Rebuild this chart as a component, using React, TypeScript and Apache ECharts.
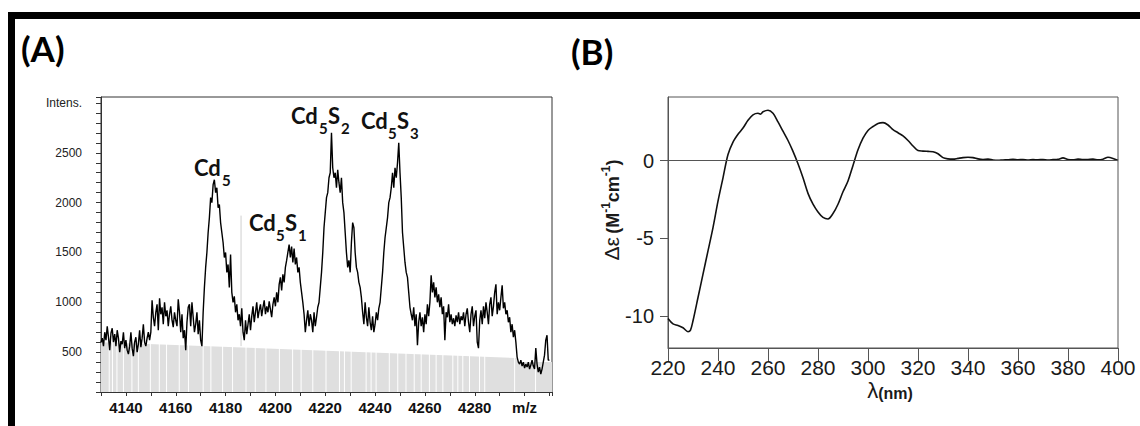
import React, { useEffect, useRef } from "react";
import * as echarts from "echarts";

// ---------- Panel A : mass spectrum ----------
const msStart = 4130;
const msStep = 0.5;
const msIntensity = [
  600, 640, 560, 700, 620, 760, 650, 520, 690, 740, 600, 680, 560, 720, 640, 500, 610, 580, 700, 540,
  620, 520, 480, 560, 700, 540, 460, 600, 650, 500, 580, 720, 550, 640, 780, 600, 560, 640, 700, 620,
  700, 1020, 850, 760, 900, 980, 720, 1040, 880, 950, 780, 1000, 860, 920, 760, 880, 960, 820, 750, 900,
  820, 760, 1030, 900, 700, 880, 640, 720, 520, 800, 950, 980, 760, 1000, 850, 700, 780, 900, 680, 820,
  620, 560, 900, 1150, 1350, 1500, 1700, 1850, 2050, 2000, 2180, 2230, 2100, 2150, 1950, 1980, 1800, 1700, 1600, 1450,
  1500, 1300, 1380, 1150, 1480, 1100, 1000, 1060, 900, 980, 820, 880, 760, 940, 700, 620, 820, 680, 780, 880,
  720, 860, 960, 800, 900, 1000, 840, 920, 980, 860, 950, 1020, 880, 960, 900, 1010, 930, 850, 980, 1050,
  960, 1100, 1000, 1180, 1250, 1120, 1280, 1200, 1350, 1420, 1500, 1580, 1450, 1560, 1400, 1540, 1380, 1450, 1300, 1350,
  1200, 1100, 1000, 880, 700, 820, 920, 760, 880, 820, 700, 900, 760, 850, 950, 1000, 1150, 1300, 1500, 1750,
  1900, 2050, 2100, 2250, 2300, 2700, 2350, 2250, 2300, 2150, 2330, 2200, 2100, 2250, 2000, 1900, 1700, 1500, 1350, 1420,
  1300, 1600, 1800, 1750, 1500, 1350, 1300, 1200, 1150, 1050, 900, 780, 1000, 850, 760, 950, 800, 720, 860, 700,
  780, 900, 820, 940, 1000, 1150, 1300, 1500, 1650, 1750, 1850, 2000, 2050, 2150, 2300, 2150, 2350, 2250, 2400, 2600,
  2300, 2050, 1700, 1550, 1400, 1300, 1250, 1100, 950, 880, 820, 950, 760, 880, 570, 800, 900, 760, 850, 700,
  880, 780, 980, 860, 1000, 1270, 1100, 1200, 1050, 1150, 1000, 1080, 950, 1050, 880, 960, 620, 900, 850, 980,
  800, 880, 780, 840, 760, 870, 800, 900, 780, 860, 820, 900, 760, 880, 940, 800, 700, 880, 960, 760,
  860, 920, 600, 540, 820, 920, 780, 960, 840, 1000, 900, 780, 980, 1050, 860, 960, 1100, 1180, 880, 1000,
  920, 1050, 1170, 940, 1000, 880, 920, 800, 850, 700, 780, 650, 720, 600, 450, 400, 380, 420, 360, 400,
  340, 380, 350, 400, 330, 370, 420, 360, 330, 540, 380, 300, 350, 280, 330, 400, 470, 620, 670, 420,
  420,
];
// grey background bars (envelope)
const bgMz = [4130, 4296.8, 4297.2, 4311];
const bgTop = [600, 440, 400, 400];
// white gaps between the grey background bars
const bgGapMz = [
  4133.3, 4134.6, 4136.4, 4139, 4142.4, 4145, 4149.8, 4153.4, 4156.3, 4161.4, 4165.1, 4171, 4174.1,
  4178.8, 4182.8, 4188.2, 4191.9, 4196.2, 4201.6, 4206.9, 4210.3, 4215, 4220.3, 4225.7, 4227.7,
  4230.4, 4236.4, 4238.4, 4240.4, 4245.7, 4249.1, 4252.4, 4255.7, 4258.5, 4261.8, 4264.5, 4267.2,
  4271.2, 4273.2, 4275.2, 4277.9, 4281.9, 4284, 4296, 4304.4,
];
const bgGapTop = 620;
// one isolated grey bar
const spikeMz = 4186.2;
const spikeTop = 1870;
const spikeBase = 560;

// ---------- Panel B : CD spectrum ----------
const cdWavelength = [
  220, 222, 224, 226, 228, 229, 230, 232, 234, 236, 238, 240, 242, 244, 246, 248, 250, 252, 254, 256,
  257, 258, 260, 262, 264, 266, 268, 270, 272, 274, 276, 278, 280, 282, 284, 286, 288, 290, 292, 294,
  296, 298, 300, 302, 304, 306, 308, 310, 312, 314, 316, 318, 320, 322, 324, 326, 328, 330, 332, 334,
  336, 338, 340, 342, 344, 346, 348, 350, 352, 354, 356, 358, 360, 362, 364, 366, 368, 370, 372, 374,
  376, 378, 380, 382, 384, 386, 388, 390, 392, 394, 396, 398, 400,
];
const cdValues = [
  -10.15, -10.5, -10.6, -10.75, -11.0, -10.9, -10.3, -8.8, -7.3, -5.8, -4.3, -2.6, -1.1, 0.4, 1.2, 1.7, 2.1, 2.6, 2.95, 3.05,
  3.0, 3.15, 3.25, 3.05, 2.5, 1.9, 1.3, 0.6, -0.2, -1.1, -2.1, -2.8, -3.3, -3.65, -3.75, -3.4, -2.8, -2.0, -1.3, -0.3,
  0.7, 1.45, 1.95, 2.2, 2.4, 2.45, 2.3, 2.0, 1.8, 1.6, 1.3, 0.95, 0.65, 0.62, 0.6, 0.58, 0.45, 0.2, 0.12, 0.1,
  0.15, 0.2, 0.22, 0.2, 0.12, 0.08, 0.1, 0.05, 0.03, 0.05, 0.06, 0.09, 0.06, 0.08, 0.04, 0.07, 0.06, 0.08, 0.05, 0.07,
  0.09, 0.18, 0.08, 0.06, 0.1, 0.07, 0.08, 0.1, 0.06, 0.1, 0.22, 0.15, 0.02,
];
const cdTicks = [-10, -5, 0];

const LABEL_FONT = "Lato, 'Noto Sans', sans-serif";
const ARIAL = "'Liberation Sans', Arial, sans-serif";

function sub(text: string, x: number, y: number, size: number) {
  return {
    type: "text",
    x,
    y,
    style: {
      text,
      font: `bold ${size}px ${LABEL_FONT}`,
      fill: "#111",
      textAlign: "left",
      textVerticalAlign: "middle",
    },
  };
}

export default function App() {
  const ref = useRef<HTMLDivElement>(null);
  useEffect(() => {
    if (!ref.current) return;
    const chart = echarts.init(ref.current, undefined, { renderer: "svg" });
    const msData = msIntensity.map((v, i) => [msStart + i * msStep, v]);
    const bgData = bgMz.map((m, i) => [m, bgTop[i]]);
    const gapData = bgGapMz.map((m) => [m, bgGapTop]);
    const cdData = cdWavelength.map((w, i) => [w, cdValues[i]]);

    const option: any = {
      animation: false,
      backgroundColor: "#fff",
      grid: [
        { left: 101, top: 97, width: 451, height: 295, show: true, borderColor: "#333", borderWidth: 1, backgroundColor: "transparent" },
        { left: 668, top: 97, width: 450, height: 251, show: true, borderColor: "#555", borderWidth: 1, backgroundColor: "transparent" },
      ],
      xAxis: [
        {
          gridIndex: 0,
          type: "value",
          min: 4130,
          max: 4311,
          interval: 10,
          axisLine: { show: true, onZero: false, lineStyle: { color: "#333", width: 1 } },
          axisTick: { show: true, length: 4, lineStyle: { color: "#333" } },
          splitLine: { show: false },
          axisLabel: {
            margin: 8,
            color: "#111",
            fontFamily: ARIAL,
            fontWeight: "bold",
            fontSize: 15,
            showMinLabel: true,
            showMaxLabel: true,
            formatter: (v: number) => (v === 4300 ? "m/z" : v % 20 === 0 ? String(v) : ""),
          },
        },
        {
          gridIndex: 1,
          type: "value",
          min: 220,
          max: 400,
          interval: 20,
          axisLine: { show: true, onZero: false, lineStyle: { color: "#555", width: 1 } },
          axisTick: { show: true, length: 13, lineStyle: { color: "#555" } },
          splitLine: { show: false },
          axisLabel: { margin: 9, color: "#1a1a1a", fontFamily: ARIAL, fontSize: 21 },
        },
      ],
      yAxis: [
        {
          gridIndex: 0,
          type: "value",
          min: 100,
          max: 3060,
          interval: 100,
          axisLine: { show: true, onZero: false, lineStyle: { color: "#333", width: 1 } },
          axisTick: { show: true, length: 5, lineStyle: { color: "#333" } },
          splitLine: { show: false },
          axisLabel: {
            margin: 19,
            color: "#222",
            fontFamily: ARIAL,
            fontSize: 12,
            formatter: (v: number) =>
              v === 3000 ? "Intens." : v % 500 === 0 && v >= 500 && v <= 2500 ? String(v) : "",
          },
        },
        {
          gridIndex: 1,
          type: "value",
          min: -12.05,
          max: 4.1,
          axisLine: { show: true, onZero: false, lineStyle: { color: "#555", width: 1 } },
          axisTick: { show: true, length: 8, lineStyle: { color: "#555" }, customValues: cdTicks },
          splitLine: { show: false },
          axisLabel: { margin: 14, color: "#1a1a1a", fontFamily: ARIAL, fontSize: 20, customValues: cdTicks },
        },
      ],
      series: [
        {
          type: "line",
          xAxisIndex: 0,
          yAxisIndex: 0,
          data: bgData,
          symbol: "none",
          lineStyle: { width: 0 },
          areaStyle: { color: "#dfdfdf", opacity: 1, origin: "start" },
          silent: true,
          z: 1,
        },
        {
          type: "bar",
          xAxisIndex: 0,
          yAxisIndex: 0,
          data: gapData,
          barWidth: 1,
          itemStyle: { color: "#ffffff" },
          silent: true,
          clip: true,
          z: 2,
        },
        {
          type: "line",
          xAxisIndex: 0,
          yAxisIndex: 0,
          data: [
            [spikeMz, spikeBase],
            [spikeMz, spikeTop],
          ],
          symbol: "none",
          lineStyle: { width: 1, color: "#cfcfcf" },
          silent: true,
          z: 2,
        },
        {
          type: "line",
          xAxisIndex: 0,
          yAxisIndex: 0,
          data: msData,
          symbol: "none",
          lineStyle: { width: 1.4, color: "#000" },
          silent: true,
          z: 3,
        },
        {
          type: "line",
          xAxisIndex: 1,
          yAxisIndex: 1,
          data: cdData,
          symbol: "none",
          smooth: 0.3,
          lineStyle: { width: 1.6, color: "#111" },
          silent: true,
          z: 3,
          markLine: {
            silent: true,
            symbol: ["none", "none"],
            label: { show: false },
            lineStyle: { color: "#555", width: 1, type: "solid" },
            data: [{ yAxis: 0 }],
          },
        },
      ],
      graphic: [
        { type: "rect", shape: { x: 8, y: 12, width: 7, height: 414 }, style: { fill: "#000" }, z: 100 },
        { type: "rect", shape: { x: 8, y: 12, width: 1132, height: 7 }, style: { fill: "#000" }, z: 100 },
        {
          type: "text",
          x: 21,
          y: 48,
          style: { text: "(A)", font: `bold 35px ${LABEL_FONT}`, fill: "#000", textVerticalAlign: "middle" },
        },
        {
          type: "text",
          x: 571,
          y: 51,
          style: { text: "(B)", font: `bold 35px ${LABEL_FONT}`, fill: "#000", textVerticalAlign: "middle" },
        },
        // Cd5
        sub("Cd", 194, 167, 22),
        sub("5", 222, 180, 15),
        // Cd5S1
        sub("Cd", 249, 222, 22),
        sub("5", 276, 235, 15),
        sub("S", 285, 222, 22),
        sub("1", 298, 235, 15),
        // Cd5S2
        sub("Cd", 291, 115, 22),
        sub("5", 319, 128, 15),
        sub("S", 328, 115, 22),
        sub("2", 341, 128, 15),
        // Cd5S3
        sub("Cd", 361, 120, 22),
        sub("5", 388, 133, 15),
        sub("S", 397, 120, 22),
        sub("3", 410, 133, 15),
        // y axis title of panel B
        {
          type: "text",
          x: 611,
          y: 210,
          rotation: Math.PI / 2,
          style: {
            text: "{g|Δε} {b|(M}{s|-1}{b|cm}{s|-1}{b|)}",
            textAlign: "center",
            textVerticalAlign: "middle",
            fill: "#1a1a1a",
            rich: {
              g: { fontSize: 21, fontFamily: ARIAL, lineHeight: 22, verticalAlign: "bottom", fill: "#1a1a1a" },
              b: { fontSize: 18, fontFamily: ARIAL, fontWeight: "bold", lineHeight: 22, verticalAlign: "bottom", fill: "#1a1a1a" },
              s: { fontSize: 12, fontFamily: ARIAL, fontWeight: "bold", lineHeight: 12, verticalAlign: "top", fill: "#1a1a1a" },
            },
          },
        },
        // x axis title of panel B
        {
          type: "text",
          x: 890,
          y: 390,
          style: {
            text: "{l|λ}{n|(nm)}",
            textAlign: "center",
            textVerticalAlign: "middle",
            fill: "#1a1a1a",
            rich: {
              l: { fontSize: 22, fontFamily: ARIAL, lineHeight: 22, verticalAlign: "bottom", fill: "#1a1a1a" },
              n: { fontSize: 16, fontFamily: ARIAL, fontWeight: "bold", lineHeight: 18, verticalAlign: "bottom", fill: "#1a1a1a" },
            },
          },
        },
      ],
    };
    chart.setOption(option);
    return () => chart.dispose();
  }, []);
  return (
    <div
      ref={ref}
      style={{ position: "absolute", left: 0, top: 0, width: 1140, height: 426, background: "#fff" }}
    />
  );
}
